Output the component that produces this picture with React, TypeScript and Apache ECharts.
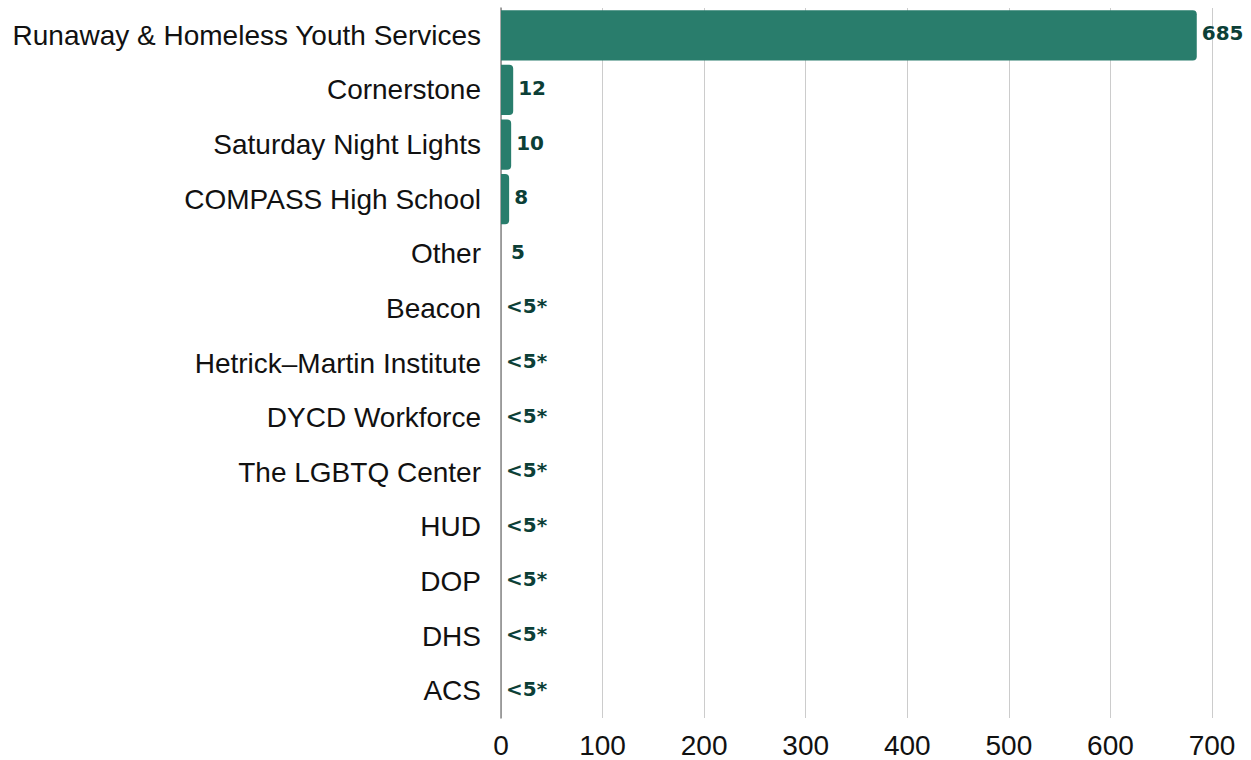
import React, { useEffect, useRef } from "react";
import * as echarts from "echarts";

const categories = [
  "Runaway & Homeless Youth Services",
  "Cornerstone",
  "Saturday Night Lights",
  "COMPASS High School",
  "Other",
  "Beacon",
  "Hetrick–Martin Institute",
  "DYCD Workforce",
  "The LGBTQ Center",
  "HUD",
  "DOP",
  "DHS",
  "ACS",
];
const values = [685, 12, 10, 8, 5, 0, 0, 0, 0, 0, 0, 0, 0];
const valueLabels = ["685", "12", "10", "8", "5", "<5*", "<5*", "<5*", "<5*", "<5*", "<5*", "<5*", "<5*"];
const barVisible = [true, true, true, true, false, false, false, false, false, false, false, false, false];
const xTicks = [0, 100, 200, 300, 400, 500, 600, 700];

export default function App() {
  const ref = useRef<HTMLDivElement>(null);
  useEffect(() => {
    document.body.style.margin = "0";
    const chart = echarts.init(ref.current!, null, { renderer: "svg" });
    chart.setOption({
      animation: false,
      grid: { left: 501, right: 39, top: 8, bottom: 42, containLabel: false },
      xAxis: {
        type: "value",
        min: xTicks[0],
        max: xTicks[xTicks.length - 1],
        interval: 100,
        axisLine: { show: false },
        axisTick: { show: false },
        splitLine: { show: true, lineStyle: { color: "#cccccc", width: 1 } },
        axisLabel: {
          fontFamily: "Liberation Sans, Arial, sans-serif",
          fontSize: 28,
          color: "#111",
          margin: 13,
        },
      },
      yAxis: {
        type: "category",
        inverse: true,
        data: categories,
        axisLine: { show: true, lineStyle: { color: "#888", width: 1.5 } },
        axisTick: { show: false },
        axisLabel: {
          fontFamily: "Liberation Sans, Arial, sans-serif",
          fontSize: 28,
          color: "#111",
          margin: 20,
        },
      },
      series: [
        {
          type: "bar",
          data: values.map((v, i) => ({
            value: v,
            itemStyle: barVisible[i] ? undefined : { opacity: 0 },
          })),
          barCategoryGap: "8%",
          itemStyle: { color: "#297d6c", borderRadius: [0, 4, 4, 0] },
          label: {
            show: true,
            position: "right",
            distance: 5,
            offset: [0, -2],
            formatter: (p: any) => valueLabels[p.dataIndex],
            fontFamily: "DejaVu Sans, sans-serif",
            fontWeight: "bold",
            fontSize: 20,
            color: "#0c3f37",
            opacity: 1,
          },
        },
      ],
    });
    return () => chart.dispose();
  }, []);
  return <div ref={ref} style={{ width: 1251, height: 760 }} />;
}
